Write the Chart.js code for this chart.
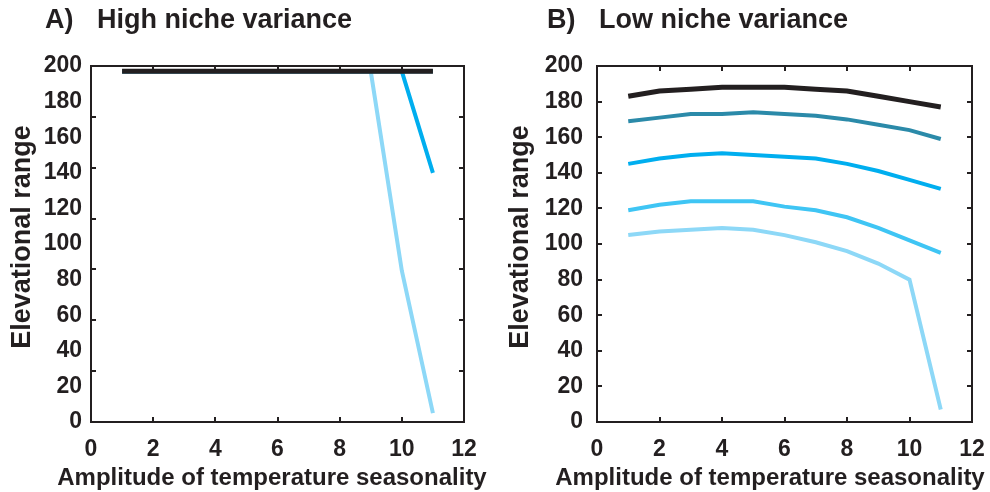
<!DOCTYPE html>
<html>
<head>
<meta charset="utf-8">
<script src="https://cdn.jsdelivr.net/npm/chart.js@4"></script>
<style>
  body { margin: 0; background: #fff; }
  .wrap { position: absolute; top: 0; width: 495px; height: 492px; }
</style>
</head>
<body>
<div class="wrap" style="left:0"><canvas id="chartA" width="495" height="492"></canvas></div>
<div class="wrap" style="left:495px"><canvas id="chartB" width="495" height="492"></canvas></div>
<script>
// amplitude of temperature seasonality
const amplitude = [1, 2, 3, 4, 5, 6, 7, 8, 9, 10, 11];

// A) high niche variance (most series sit under the black one at the top)
const highBlack = [197, 197, 197, 197, 197, 197, 197, 197, 197, 197, 197];
const highTeal  = [197, 197, 197, 197, 197, 197, 197, 197, 197, 197, 197];
const highBlue  = [197, 197, 197, 197, 197, 197, 197, 197, 197, 197, 140];
const highMid   = [197, 197, 197, 197, 197, 197, 197, 197, 197, 197, 197];
const highLight = [197, 197, 197, 197, 197, 197, 197, 197, 197, 85, 5];

// B) low niche variance
const lowBlack = [183, 186, 187, 188, 188, 188, 187, 186, 183, 180, 177];
const lowTeal  = [169, 171, 173, 173, 174, 173, 172, 170, 167, 164, 159];
const lowBlue  = [145, 148, 150, 151, 150, 149, 148, 145, 141, 136, 131];
const lowMid   = [119, 122, 124, 124, 124, 121, 119, 115, 109, 102, 95];
const lowLight = [105, 107, 108, 109, 108, 105, 101, 96, 89, 80, 7];

const xTickLabels = [0, 2, 4, 6, 8, 10, 12];
const yTickLabels = [0, 20, 40, 60, 80, 100, 120, 140, 160, 180, 200];
// tick marks on panel A's y axes don't line up with its labels
const highYMarks = [28.6, 57.1, 85.7, 114.3, 142.9, 171.4];

const INK = '#231f20';
const colors = ['#231f20', '#2b8aa9', '#00aeef', '#3fc5f4', '#8dd8f7'];
const FONT = '"Liberation Sans", Arial, Helvetica, sans-serif';

function toPoints(ys) {
    return amplitude.map((x, i) => ({x: x, y: ys[i]}));
}

// box around the plot, inward ticks, axis titles and the panel title
// (x title is wider than the plot, so chart.js would squeeze it)
const framePlugin = {
    id: 'frame',
    afterDraw(chart, args, opts) {
        const {ctx, chartArea: a} = chart;
        const x = chart.scales.x, y = chart.scales.y;
        ctx.save();
        ctx.strokeStyle = INK;
        ctx.lineWidth = 2;
        ctx.strokeRect(a.left, a.top, a.right - a.left, a.bottom - a.top);
        ctx.beginPath();
        xTickLabels.slice(1, -1).forEach(v => {
            const px = Math.round(x.getPixelForValue(v));
            ctx.moveTo(px, a.bottom); ctx.lineTo(px, a.bottom - 5);
            ctx.moveTo(px, a.top); ctx.lineTo(px, a.top + 5);
        });
        opts.yMarks.forEach(v => {
            const py = Math.round(y.getPixelForValue(v));
            ctx.moveTo(a.left, py); ctx.lineTo(a.left + 5, py);
            ctx.moveTo(a.right, py); ctx.lineTo(a.right - 5, py);
        });
        ctx.stroke();

        ctx.fillStyle = INK;
        ctx.textBaseline = 'alphabetic';
        ctx.font = 'bold 27px ' + FONT;
        ctx.textAlign = 'left';
        ctx.fillText(opts.tag, opts.tagX, 28);
        ctx.fillText(opts.text, opts.tagX + 52, 28);

        ctx.font = 'bold 24px ' + FONT;
        ctx.textAlign = 'center';
        ctx.fillText('Amplitude of temperature seasonality', opts.xTitleX, 485);

        ctx.font = 'bold 27px ' + FONT;
        ctx.textBaseline = 'middle';
        ctx.translate(opts.yTitleX, 237);
        ctx.rotate(-Math.PI / 2);
        ctx.fillText('Elevational range', 0, 0);
        ctx.restore();
    }
};

function makeChart(id, series, frame, yWidth, rightPad, yLabelPad) {
    const ctx = document.getElementById(id).getContext('2d');
    return new Chart(ctx, {
        type: 'line',
        data: {
            datasets: series.map((ys, i) => ({
                data: toPoints(ys),
                borderColor: colors[i],
                borderWidth: i === 0 ? 5 : 4,
                pointRadius: 0,
                tension: 0,
                fill: false
            }))
        },
        options: {
            responsive: false,
            animation: false,
            layout: {padding: {top: 66, right: rightPad, left: 0, bottom: 0}},
            plugins: {
                legend: {display: false},
                tooltip: {enabled: false},
                frame: frame
            },
            scales: {
                x: {
                    type: 'linear',
                    min: 0, max: 12,
                    grid: {display: false, drawTicks: false},
                    border: {display: false},
                    afterBuildTicks: s => { s.ticks = xTickLabels.map(v => ({value: v})); },
                    afterFit: s => { s.height = 70; s.paddingLeft = 0; s.paddingRight = 0; },
                    ticks: {
                        color: INK, padding: 14, maxRotation: 0, autoSkip: false,
                        font: {family: FONT, size: 23, weight: 'bold'}
                    }
                },
                y: {
                    min: 0, max: 200,
                    grid: {display: false, drawTicks: false},
                    border: {display: false},
                    afterBuildTicks: s => { s.ticks = yTickLabels.map(v => ({value: v})); },
                    afterFit: s => { s.width = yWidth; s.paddingTop = 0; s.paddingBottom = 0; },
                    ticks: {
                        color: INK, padding: yLabelPad,
                        font: {family: FONT, size: 23, weight: 'bold'}
                    }
                }
            }
        },
        plugins: [framePlugin]
    });
}

makeChart('chartA', [highBlack, highTeal, highBlue, highMid, highLight],
    {tag: 'A)', text: 'High niche variance', tagX: 45, yMarks: highYMarks, xTitleX: 272, yTitleX: 23},
    91, 31, 9);
makeChart('chartB', [lowBlack, lowTeal, lowBlue, lowMid, lowLight],
    {tag: 'B)', text: 'Low niche variance', tagX: 52, yMarks: yTickLabels.slice(1, -1), xTitleX: 275, yTitleX: 26},
    102, 18, 14);
</script>
</body>
</html>
